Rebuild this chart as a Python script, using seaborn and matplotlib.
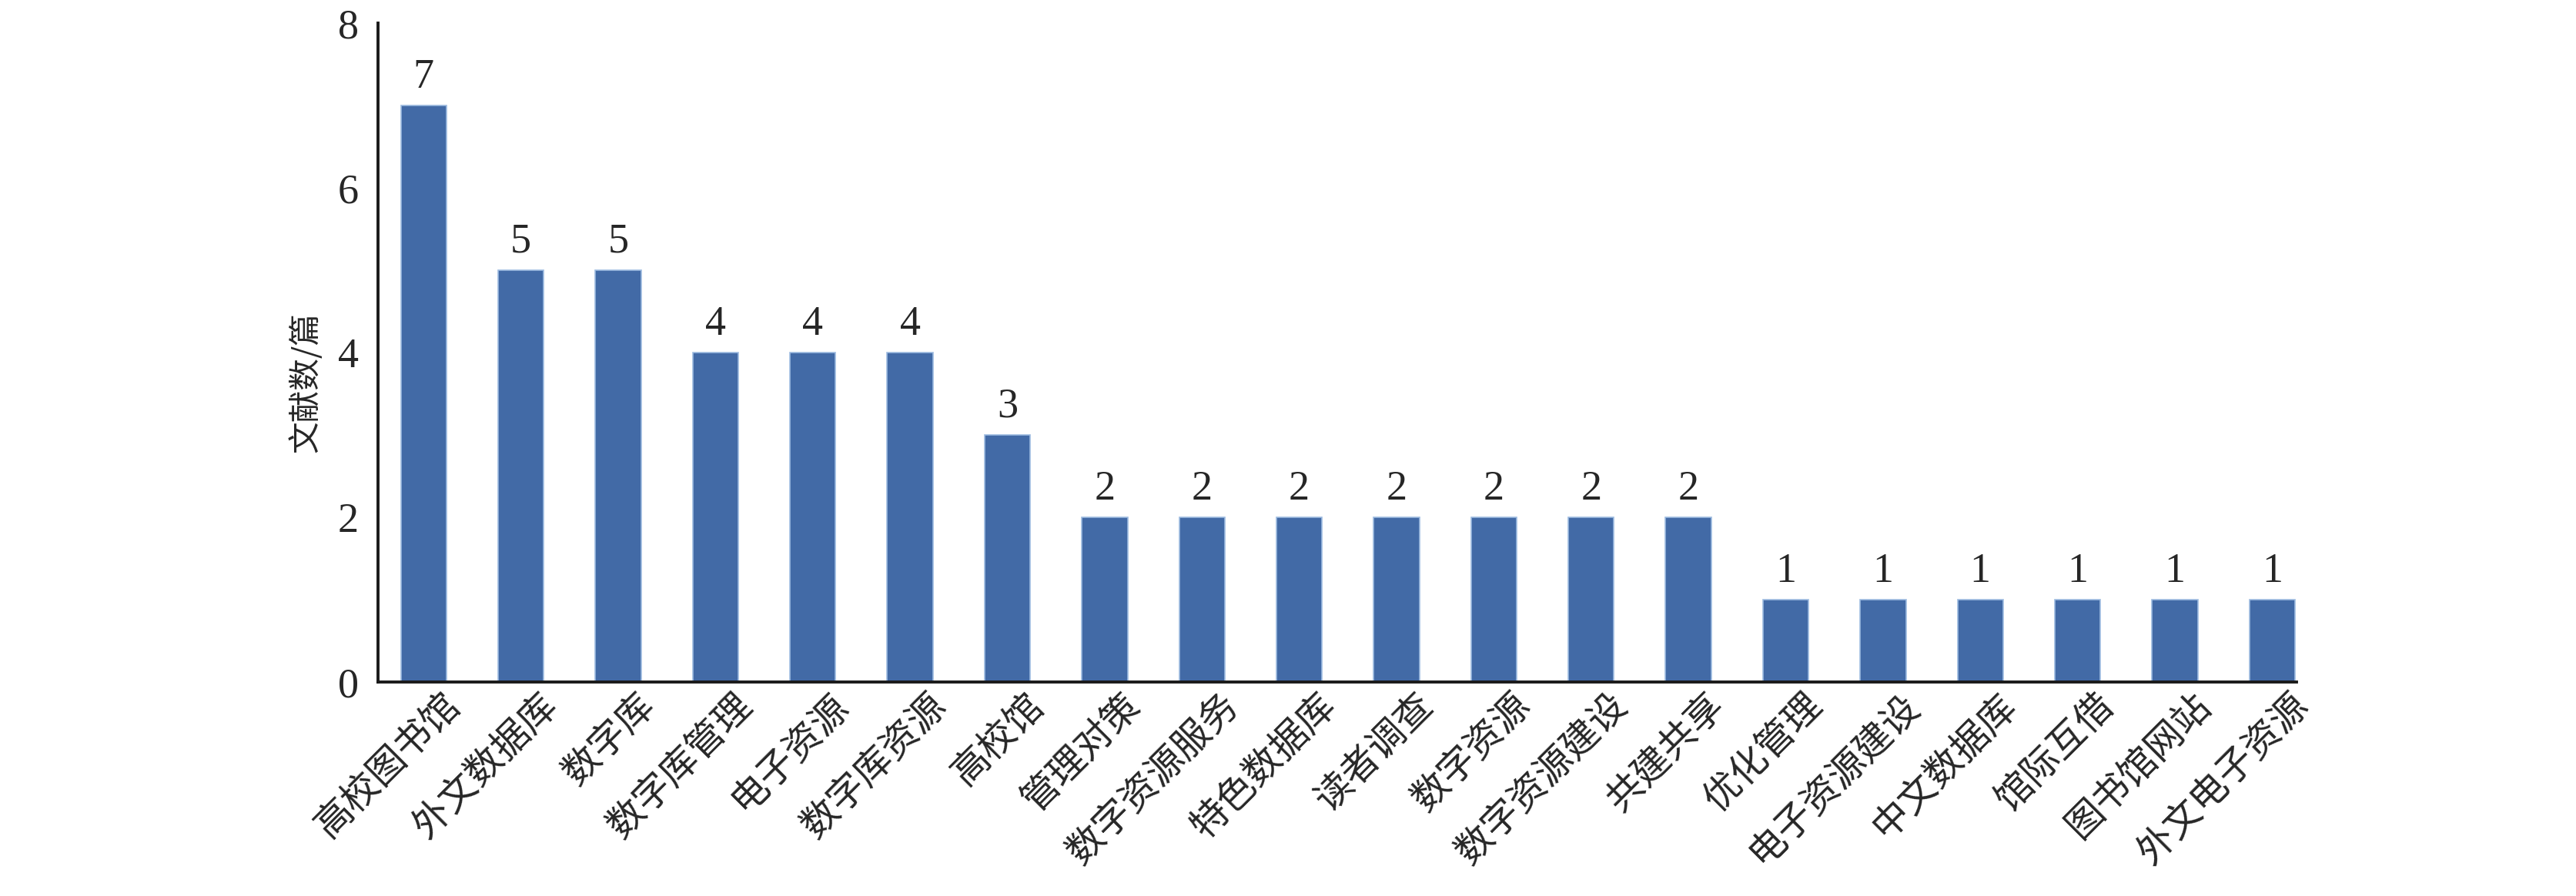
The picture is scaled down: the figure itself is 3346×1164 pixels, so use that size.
"""Bar chart of keyword frequencies (文献数/篇)"""

import matplotlib
matplotlib.use("Agg")
import matplotlib.pyplot as plt
import matplotlib.transforms as mtransforms
import seaborn as sns
import pandas as pd


keywords = [
    "高校图书馆", "外文数据库", "数字库", "数字库管理", "电子资源", "数字库资源",
    "高校馆", "管理对策", "数字资源服务", "特色数据库", "读者调查", "数字资源",
    "数字资源建设", "共建共享", "优化管理", "电子资源建设", "中文数据库",
    "馆际互借", "图书馆网站", "外文电子资源",
]
counts = [7, 5, 5, 4, 4, 4, 3, 2, 2, 2, 2, 2, 2, 2, 1, 1, 1, 1, 1, 1]
y_ticks = [0, 2, 4, 6, 8]

BAR_COLOR = "#426aa6"


def plot_keywords():
    sns.set_style("white")
    plt.rcParams["font.family"] = ["Liberation Serif", "Noto Sans CJK SC"]

    source = pd.DataFrame({"keyword": keywords, "count": counts})

    fig = plt.figure(figsize=(33.46, 11.64), dpi=100)
    ax = fig.add_axes([0.1467, 0.239, 0.7448, 0.735])

    sns.barplot(
        data=source, x="keyword", y="count", color=BAR_COLOR,
        saturation=1, width=0.47, edgecolor="#9dbbe0", linewidth=1.2, ax=ax,
    )

    # value labels over each bar
    for container in ax.containers:
        ax.bar_label(container, padding=8, fontsize=39)

    ax.set_ylim(0, 8)
    ax.set_xlim(-0.47, len(keywords) - 0.75)
    ax.set_yticks(y_ticks)
    ax.tick_params(axis="y", direction="in", length=10, width=2.5,
                   labelsize=39, pad=18)
    ax.tick_params(axis="x", length=0, pad=4)

    # rotated category labels, nudged a little to the right
    shift = mtransforms.ScaledTranslation(0.22, 0, fig.dpi_scale_trans)
    for lbl in ax.get_xticklabels():
        lbl.set_rotation(45)
        lbl.set_ha("right")
        lbl.set_rotation_mode("anchor")
        lbl.set_fontsize(35)
        lbl.set_family(["Noto Sans CJK SC"])
        lbl.set_transform(lbl.get_transform() + shift)

    for side in ["top", "right"]:
        ax.spines[side].set_visible(False)
    for side in ["left", "bottom"]:
        ax.spines[side].set_linewidth(2.8)
        ax.spines[side].set_color("#1a1a1a")

    ax.set_xlabel("")
    ax.set_ylabel("文献数/篇", fontsize=30, family=["Noto Sans CJK SC"])
    ax.yaxis.set_label_coords(-0.029, 0.455)

    fig.savefig("out.png", dpi=100)


if __name__ == "__main__":
    plot_keywords()
